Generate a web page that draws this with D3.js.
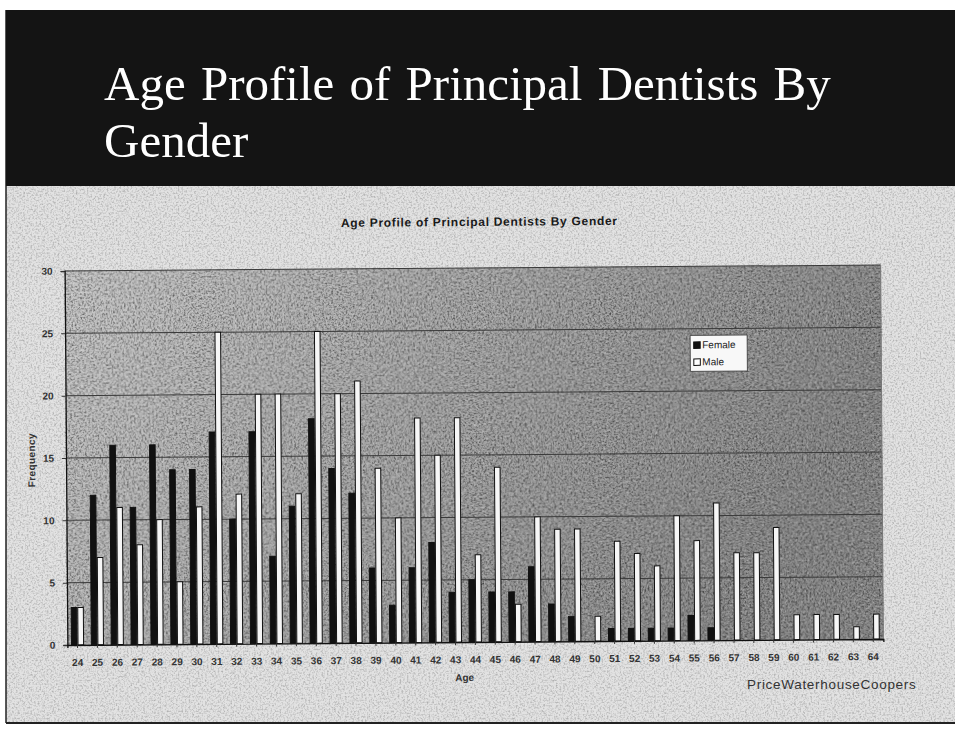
<!DOCTYPE html>
<html>
<head>
<meta charset="utf-8">
<script src="https://cdn.jsdelivr.net/npm/d3@7"></script>
<style>
  html, body { margin: 0; padding: 0; background: #ffffff; }
  svg { display: block; }
</style>
</head>
<body>
<script>
// Age profile of principal dentists, counts per single year of age
const ages = d3.range(24, 65).map(String);
const female = [3, 12, 16, 11, 16, 14, 14, 17, 10, 17, 7, 11, 18, 14, 12, 6, 3, 6, 8, 4,
                5, 4, 4, 6, 3, 2, 0, 1, 1, 1, 1, 2, 1, 0, 0, 0, 0, 0, 0, 0, 0];
const male = [3, 7, 11, 8, 10, 5, 11, 25, 12, 20, 20, 12, 25, 20, 21, 14, 10, 18, 15, 18,
              7, 14, 3, 10, 9, 9, 2, 8, 7, 6, 10, 8, 11, 7, 7, 9, 2, 2, 2, 1, 2];
const seriesNames = ["Female", "Male"];
const yTicks = [0, 5, 10, 15, 20, 25, 30];

const W = 955, H = 730;
const svg = d3.select("body").append("svg").attr("width", W).attr("height", H);
const defs = svg.append("defs");

// speckle textures for the printed page look
function grain(id, freq, seed, matrix) {
  const f = defs.append("filter").attr("id", id)
    .attr("x", 0).attr("y", 0).attr("width", 1).attr("height", 1);
  f.append("feTurbulence").attr("type", "fractalNoise")
    .attr("baseFrequency", freq).attr("numOctaves", 2).attr("seed", seed);
  f.append("feColorMatrix").attr("type", "matrix").attr("values", matrix);
}
grain("darkGrain", 0.55, 4, "0 0 0 0 0  0 0 0 0 0  0 0 0 0 0  2.4 0 0 0 -1.05");
grain("lightGrain", 0.45, 9, "0 0 0 0 1  0 0 0 0 1  0 0 0 0 1  0 2.4 0 0 -1.1");

const plotGrad = defs.append("linearGradient").attr("id", "plotGrad")
  .attr("x1", 0).attr("x2", 1).attr("y1", 0).attr("y2", 0.3);
plotGrad.append("stop").attr("offset", 0).attr("stop-color", "#c2c2c2");
plotGrad.append("stop").attr("offset", 0.45).attr("stop-color", "#a4a4a4");
plotGrad.append("stop").attr("offset", 1).attr("stop-color", "#848484");

// page
svg.append("rect").attr("x", 6).attr("y", 186).attr("width", W - 6).attr("height", 537)
  .attr("fill", "#e2e2e2");
svg.append("rect").attr("x", 6).attr("y", 186).attr("width", W - 6).attr("height", 537)
  .attr("filter", "url(#darkGrain)").attr("opacity", 0.22);
svg.append("line").attr("x1", 6).attr("x2", 6).attr("y1", 10).attr("y2", 723)
  .attr("stroke", "#222").attr("stroke-width", 1.5);
svg.append("line").attr("x1", 6).attr("x2", W).attr("y1", 723).attr("y2", 723)
  .attr("stroke", "#222").attr("stroke-width", 2);

// slide header
svg.append("rect").attr("x", 6).attr("y", 10).attr("width", W - 6).attr("height", 176)
  .attr("fill", "#141414");
const head = svg.append("text").attr("fill", "#ffffff")
  .attr("font-family", "'Liberation Serif', 'Times New Roman', serif").attr("font-size", 49);
head.append("tspan").attr("x", 104).attr("y", 100).attr("word-spacing", 3)
  .text("Age Profile of Principal Dentists By");
head.append("tspan").attr("x", 104).attr("y", 157).text("Gender");

// chart
const chart = svg.append("g").attr("transform", "rotate(-0.42 474 455)");
const m = { left: 66, right: 882, top: 268, bottom: 642 };

const x0 = d3.scaleBand().domain(ages).range([m.left, m.right])
  .paddingInner(0.34).paddingOuter(0.18);
const x1 = d3.scaleBand().domain(seriesNames).range([0, x0.bandwidth()]);
const y = d3.scaleLinear().domain([0, 30]).range([m.bottom, m.top]);

const axisFont = "'Liberation Sans', Arial, sans-serif";

chart.append("text").attr("x", 481).attr("y", 226).attr("text-anchor", "middle")
  .attr("font-family", axisFont).attr("font-weight", "bold")
  .attr("font-size", 12).attr("letter-spacing", 0.7).attr("fill", "#1a1a1a")
  .text("Age Profile of Principal Dentists By Gender");

chart.append("rect").attr("x", m.left).attr("y", m.top)
  .attr("width", m.right - m.left).attr("height", m.bottom - m.top)
  .attr("fill", "url(#plotGrad)");
chart.append("rect").attr("x", m.left).attr("y", m.top)
  .attr("width", m.right - m.left).attr("height", m.bottom - m.top)
  .attr("filter", "url(#darkGrain)").attr("opacity", 0.55);
chart.append("rect").attr("x", m.left).attr("y", m.top)
  .attr("width", m.right - m.left).attr("height", m.bottom - m.top)
  .attr("filter", "url(#lightGrain)").attr("opacity", 0.35);

// gridlines
chart.append("g").selectAll("line").data(yTicks.filter(d => d > 0)).join("line")
  .attr("x1", m.left).attr("x2", m.right)
  .attr("y1", d => y(d)).attr("y2", d => y(d))
  .attr("stroke", "#3a3a3a").attr("stroke-width", 1);
chart.append("line").attr("x1", m.right).attr("x2", m.right)
  .attr("y1", m.top).attr("y2", m.bottom).attr("stroke", "#777");

// bars
const rows = ages.map((a, i) => ({ age: a, values: [female[i], male[i]] }));
const groups = chart.append("g").selectAll("g").data(rows).join("g")
  .attr("transform", d => `translate(${x0(d.age)},0)`);
groups.selectAll("rect")
  .data(d => d.values.map((v, k) => ({ key: seriesNames[k], value: v })).filter(d => d.value > 0))
  .join("rect")
  .attr("x", d => x1(d.key) + 0.5)
  .attr("width", x1.bandwidth() - 1)
  .attr("y", d => y(d.value))
  .attr("height", d => y(0) - y(d.value))
  .attr("fill", d => d.key === "Female" ? "#111111" : "#f6f6f6")
  .attr("stroke", "#111").attr("stroke-width", 1);

// axes
const yAxis = chart.append("g").attr("transform", `translate(${m.left},0)`)
  .call(d3.axisLeft(y).tickValues(yTicks).tickSize(4).tickPadding(8));
const xAxis = chart.append("g").attr("transform", `translate(0,${m.bottom})`)
  .call(d3.axisBottom(x0).tickSize(3).tickPadding(11));
[yAxis, xAxis].forEach(g => {
  g.select(".domain").attr("stroke", "#111").attr("stroke-width", 1.3);
  g.selectAll(".tick line").attr("stroke", "#333");
  g.selectAll("text").attr("font-family", axisFont).attr("font-size", 10)
    .attr("font-weight", "bold").attr("fill", "#333");
});

chart.append("text").attr("transform", "translate(35,457) rotate(-90)")
  .attr("text-anchor", "middle").attr("font-family", axisFont).attr("font-size", 10)
  .attr("font-weight", "bold").attr("letter-spacing", 0.4).attr("fill", "#333").text("Frequency");
chart.append("text").attr("x", 463).attr("y", 681).attr("text-anchor", "middle")
  .attr("font-family", axisFont).attr("font-size", 10).attr("font-weight", "bold")
  .attr("fill", "#333").text("Age");

// legend
const lg = chart.append("g").attr("transform", "translate(691,337)");
lg.append("rect").attr("width", 57).attr("height", 36)
  .attr("fill", "#f8f8f8").attr("stroke", "#333").attr("stroke-width", 0.8);
seriesNames.forEach((name, k) => {
  lg.append("rect").attr("x", 3.5).attr("y", 6.5 + k * 17).attr("width", 6.5).attr("height", 6.5)
    .attr("fill", k === 0 ? "#111" : "#fff").attr("stroke", "#111");
  lg.append("text").attr("x", 12).attr("y", 13 + k * 17)
    .attr("font-family", axisFont).attr("font-size", 10).attr("fill", "#222").text(name);
});

svg.append("text").attr("x", 747).attr("y", 689)
  .attr("font-family", axisFont).attr("font-size", 13.5).attr("letter-spacing", 0.7).attr("fill", "#333")
  .text("PriceWaterhouseCoopers");
</script>
</body>
</html>
